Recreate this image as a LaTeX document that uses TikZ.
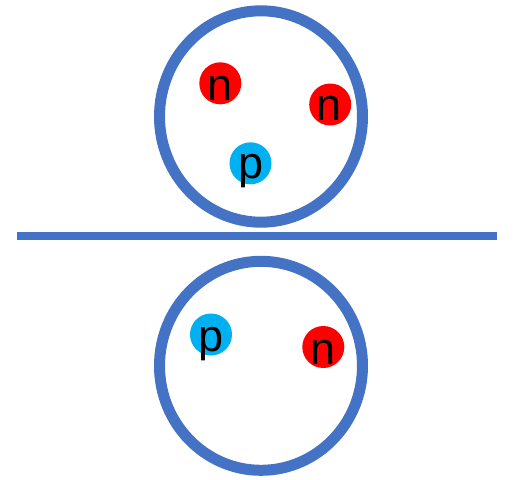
\documentclass[tikz,border=0pt]{standalone}
\usepackage{fontspec}
\setmainfont{Liberation Sans}
\definecolor{ringblue}{HTML}{4472C4}
\definecolor{nred}{HTML}{FF0000}
\definecolor{pcyan}{HTML}{00B0F0}
\tikzset{
  ring/.style={draw=ringblue, line width=11pt},
  bar/.style={draw=ringblue, line width=7.7pt},
  neutron/.style={circle, fill=nred, inner sep=0pt, minimum size=42pt},
  proton/.style={circle, fill=pcyan, inner sep=0pt, minimum size=42pt},
  lbl/.style={anchor=base, inner sep=0pt, font=\fontsize{45}{45}\selectfont}
}
\begin{document}
\begin{tikzpicture}[x=1pt,y=-1pt]
\useasboundingbox (0,0) rectangle (515,480);
% top nucleus
\draw[ring] (261,116.5) ellipse [x radius=101.5, y radius=105.7];
\node[neutron] (n1) at (220.3,83.3) {};
\node[neutron] (n2) at (330.2,104.5) {};
\node[proton] (p1) at (250.5,163.3) {};
\node[lbl] (tn1) at (220.5,100) {n};
\node[lbl] (tn2) at (329.3,120.7) {n};
\node[lbl] (tp1) at (251.2,178) {p};
% divider
\coordinate (l) at (16.7,236.2);
\coordinate (r) at (496.7,236.2);
\draw[bar] (l) -- (r);
% bottom nucleus
\draw[ring] (261,365.8) ellipse [x radius=101.5, y radius=104.5];
\node[proton] (p2) at (211,334.5) {};
\node[neutron] (n3) at (323.3,347) {};
\node[lbl] (tp2) at (211.2,351.3) {p};
\node[lbl] (tn3) at (323.3,364) {n};
\end{tikzpicture}
\end{document}
